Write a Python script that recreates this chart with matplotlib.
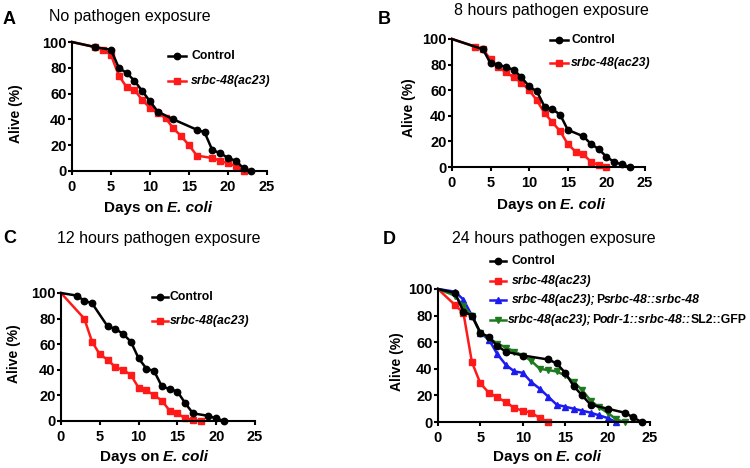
import matplotlib
matplotlib.use("Agg")
import matplotlib.pyplot as plt
from matplotlib.offsetbox import TextArea, HPacker, AnnotationBbox
from matplotlib.lines import Line2D

plt.rcParams['font.family'] = ['Liberation Sans', 'DejaVu Sans']

# ---------------- data ----------------
# Panel A: no pathogen exposure
A_ctrl_days = [0, 3, 5, 6, 7, 8, 9, 10, 11, 13, 16, 17, 18, 19, 20, 21, 22, 23]
A_ctrl = [100, 96, 94, 80, 76, 70, 62, 54, 46, 40, 32, 30, 16, 14, 10, 8, 2, 0]
A_mut_days = [0, 3, 4, 5, 6, 7, 8, 9, 10, 11, 12, 13, 14, 15, 16, 18, 19, 20, 21, 22]
A_mut = [100, 96, 94, 90, 74, 65, 63, 55, 49, 45, 41, 33, 27, 20, 12, 10, 8, 6, 4, 0]

# Panel B: 8 hours pathogen exposure
B_ctrl_days = [0, 4, 5, 6, 7, 8, 9, 10, 11, 12, 13, 14, 15, 17, 18, 19, 20, 21, 22, 23]
B_ctrl = [100, 92, 81, 80, 78, 76, 70, 63, 59, 47, 45, 41, 29, 24, 18, 14, 8, 4, 2, 0]
B_mut_days = [0, 3, 4, 5, 6, 7, 8, 9, 10, 11, 12, 13, 14, 15, 16, 17, 18, 19, 20]
B_mut = [100, 94, 92, 84, 78, 74, 70, 66, 60, 52, 42, 35, 28, 18, 12, 10, 4, 1.5, 0]

# Panel C: 12 hours pathogen exposure
C_ctrl_days = [0, 2, 3, 4, 6, 7, 8, 9, 10, 11, 12, 13, 14, 15, 16, 17, 19, 20, 21]
C_ctrl = [100, 98, 94, 92, 74, 72, 68, 62, 49, 41, 39, 27, 25, 23, 14, 6, 4, 2, 0]
C_mut_days = [0, 3, 4, 5, 6, 7, 8, 9, 10, 11, 12, 13, 14, 15, 16, 17, 18]
C_mut = [100, 80, 62, 52, 48, 42, 40, 36, 26, 24, 20, 16, 8, 6, 2, 1, 0]

# Panel D: 24 hours pathogen exposure
D_ctrl_days = [0, 2, 3, 4, 5, 6, 7, 8, 10, 13, 14, 15, 16, 17, 18, 20, 22, 23, 24]
D_ctrl = [100, 97, 83, 80, 67, 64, 57, 53, 50, 47, 44, 37, 27, 20, 13, 10, 7, 3.5, 0]
D_mut_days = [0, 2, 3, 4, 5, 6, 7, 8, 9, 10, 11, 12, 13]
D_mut = [100, 88, 82, 45, 29, 22, 18.5, 15, 10.5, 8.5, 7, 3, 0]
D_resc_days = [0, 2, 3, 4, 5, 6, 7, 8, 9, 10, 11, 12, 13, 14, 15, 16, 17, 18, 19, 20, 21]
D_resc = [100, 98, 92, 80, 67, 62, 51, 43, 38, 37, 30, 25, 19, 13, 11.5, 10, 8.5, 7, 5, 3, 0]
D_odr_days = [0, 2, 3, 4, 5, 6, 7, 8, 9, 10, 11, 12, 13, 14, 15, 16, 17, 18, 19, 20, 21, 22]
D_odr = [100, 95, 87, 80, 67, 63, 59, 56, 53, 50, 46, 40, 39, 38, 35, 30, 24, 16, 11, 7, 2, 0]

x_ticks = [0, 5, 10, 15, 20, 25]
y_ticks = [0, 20, 40, 60, 80, 100]

titles = ["No pathogen exposure", "8 hours pathogen exposure",
          "12 hours pathogen exposure", "24 hours pathogen exposure"]
letters = ["A", "B", "C", "D"]

# ---------------- layout ----------------
W, H = 750, 468
fig = plt.figure(figsize=(W / 100, H / 100), dpi=100)


def fx(x):
    return x / W


def fy(y):
    return 1 - y / H


RED = '#ff1a1a'
BLUE = '#1c1cf0'
GREEN = '#1f7a1f'
BLACK = '#000000'

TICK_FS = 10.5
LBL_FS = 11
YLBL_FS = 10
TITLE_FS = 11.5
LEG_FS = 8.8
LW = 1.8
MS = 4.6


def make_ax(x0, x1, ytop, ybot):
    ax = fig.add_axes([fx(x0), fy(ybot), (x1 - x0) / W, (ybot - ytop) / H])
    for s in ['top', 'right']:
        ax.spines[s].set_visible(False)
    for s in ['left', 'bottom']:
        ax.spines[s].set_linewidth(1.5)
    ax.set_xlim(0, 25)
    ax.set_ylim(0, 100)
    ax.set_xticks(x_ticks)
    ax.set_yticks(y_ticks)
    ax.tick_params(direction='out', length=3, width=1.5, labelsize=TICK_FS)
    ax.tick_params(axis='x', pad=3.5)
    ax.tick_params(axis='y', pad=1)
    for lab in ax.get_xticklabels() + ax.get_yticklabels():
        lab.set_fontweight('bold')
    return ax


def series(ax, d, v, color, marker, ms=MS, z=2):
    ax.plot(d, v, color=color, lw=LW, marker=marker, ms=ms, markevery=slice(1, None),
            clip_on=False, zorder=z)


def pieces_box(pieces, size):
    kids = []
    for txt, st in pieces:
        kids.append(TextArea(txt, textprops=dict(fontsize=size, fontweight='bold',
                                                 fontstyle=st, color='black')))
    return HPacker(children=kids, sep=0, pad=0, align='baseline')


def place_box(box, x, y, align=(0, 0.5)):
    ab = AnnotationBbox(box, (fx(x), fy(y)), xycoords='figure fraction',
                        box_alignment=align, frameon=False, pad=0)
    fig.add_artist(ab)


def legend_row(x0, x1, xt, y, color, marker, pieces, ms=MS):
    xm = (x0 + x1) / 2
    ln = Line2D([fx(x0), fx(xm), fx(x1)], [fy(y)] * 3, transform=fig.transFigure,
                color=color, lw=LW, marker=marker, ms=ms, markevery=[1])
    fig.add_artist(ln)
    place_box(pieces_box(pieces, LEG_FS), xt, y)


def xlabel(xc, yc):
    place_box(pieces_box([("Days on ", 'normal'), ("E. coli", 'italic')], LBL_FS),
              xc, yc, align=(0.5, 0.5))


def ylabel(xc, yc):
    fig.text(fx(xc), fy(yc), "Alive (%)", rotation=90, ha='center', va='center',
             fontsize=YLBL_FS, fontweight='bold')


def head(letter, lx, ly, title, tx, ty):
    fig.text(fx(lx), fy(ly), letter, fontsize=13, fontweight='bold', ha='left', va='center')
    fig.text(fx(tx), fy(ty), title, fontsize=TITLE_FS, ha='left', va='center')


MUT = [("srbc-48(ac23)", 'italic')]
CTRL = [("Control", 'normal')]

# Panel A
axA = make_ax(72, 267, 42, 171)
series(axA, A_mut_days, A_mut, RED, 's')
series(axA, A_ctrl_days, A_ctrl, BLACK, 'o', z=3)
head(letters[0], 3, 19.5, titles[0], 49, 16)
ylabel(16, 114)
xlabel(158, 208)
legend_row(168, 186, 191, 56, BLACK, 'o', CTRL)
legend_row(168, 186, 191, 81, RED, 's', MUT)

# Panel B
axB = make_ax(452, 645, 39, 167)
series(axB, B_mut_days, B_mut, RED, 's')
series(axB, B_ctrl_days, B_ctrl, BLACK, 'o', z=3)
head(letters[1], 378, 19, titles[1], 454, 10)
ylabel(409, 108)
xlabel(551, 205)
legend_row(550, 568, 571, 40, BLACK, 'o', CTRL)
legend_row(550, 568, 571, 63, RED, 's', MUT)

# Panel C
axC = make_ax(61, 255, 293, 421)
series(axC, C_mut_days, C_mut, RED, 's')
series(axC, C_ctrl_days, C_ctrl, BLACK, 'o', z=3)
head(letters[2], 3, 238.5, titles[2], 57, 238)
ylabel(14, 354)
xlabel(154, 457)
legend_row(152, 168, 170, 297, BLACK, 'o', CTRL)
legend_row(152, 168, 170, 321, RED, 's', MUT)

# Panel D
axD = make_ax(438, 650, 289, 422)
series(axD, D_mut_days, D_mut, RED, 's')
series(axD, D_resc_days, D_resc, BLUE, '^', ms=MS + 0.4)
series(axD, D_odr_days, D_odr, GREEN, 'v', ms=MS + 0.4)
series(axD, D_ctrl_days, D_ctrl, BLACK, 'o', z=3)
head(letters[3], 383, 240, titles[3], 452, 239)
ylabel(397, 362)
xlabel(547, 457)
legend_row(490, 506, 512, 261, BLACK, 'o', CTRL)
legend_row(490, 506, 512, 281, RED, 's', MUT)
legend_row(490, 506, 512, 300, BLUE, '^',
           [("srbc-48(ac23);", 'italic'), ("P", 'normal'), ("srbc-48::srbc-48", 'italic')],
           ms=MS + 0.4)
legend_row(490, 506, 508, 320, GREEN, 'v',
           [("srbc-48(ac23);", 'italic'), ("P", 'normal'), ("odr-1::srbc-48::", 'italic'),
            ("SL2::GFP", 'normal')], ms=MS + 0.4)

fig.savefig("out.png", dpi=100)
